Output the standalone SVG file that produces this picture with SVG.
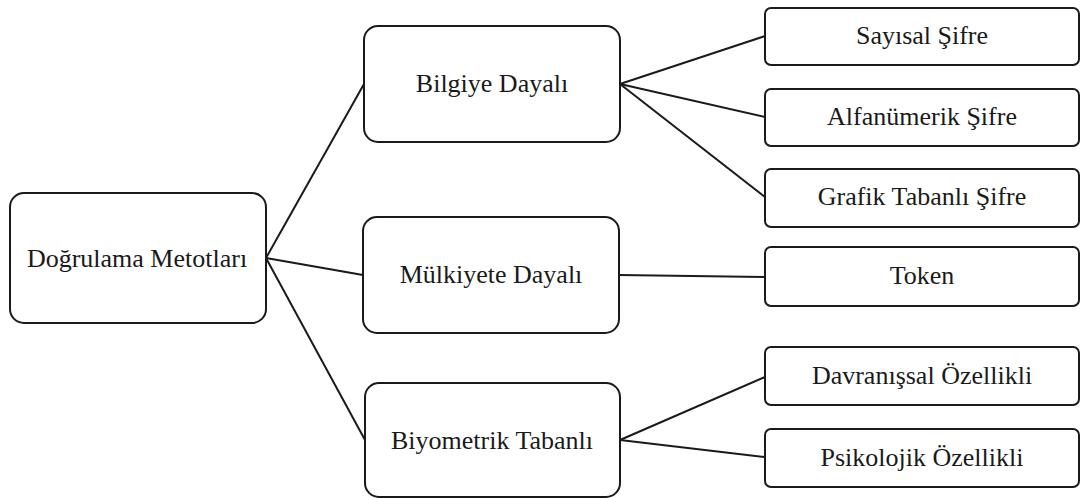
<svg xmlns="http://www.w3.org/2000/svg" width="1081" height="498" viewBox="0 0 1081 498">
  <style>
    .box { fill: #ffffff; stroke: #1a1a1a; stroke-width: 2; }
    .lbl { font-family: "Liberation Serif", "Times New Roman", serif; font-size: 26px; fill: #1a1a1a; text-anchor: middle; }
    .edge { stroke: #1a1a1a; stroke-width: 2; fill: none; }
  </style>
  <rect width="1081" height="498" fill="#ffffff"/>

  <!-- connectors -->
  <g id="connectors">
    <line class="edge" x1="266" y1="258" x2="364" y2="84"/>
    <line class="edge" x1="266" y1="258" x2="363" y2="275"/>
    <line class="edge" x1="266" y1="258" x2="365" y2="440"/>
    <line class="edge" x1="620" y1="84" x2="765" y2="36"/>
    <line class="edge" x1="620" y1="84" x2="765" y2="117"/>
    <line class="edge" x1="620" y1="84" x2="765" y2="197"/>
    <line class="edge" x1="619" y1="275" x2="765" y2="277"/>
    <line class="edge" x1="620" y1="440" x2="765" y2="377"/>
    <line class="edge" x1="620" y1="440" x2="765" y2="457"/>
  </g>

  <!-- root -->
  <g id="dogrulama-metotlari">
    <rect class="box" x="10" y="193" width="256" height="130" rx="14"/>
    <text class="lbl" x="137" y="267">Doğrulama Metotları</text>
  </g>

  <!-- second level -->
  <g id="bilgiye-dayali">
    <rect class="box" x="364" y="26" width="256" height="116" rx="14"/>
    <text class="lbl" x="492" y="92">Bilgiye  Dayalı</text>
  </g>
  <g id="mulkiyete-dayali">
    <rect class="box" x="363" y="217" width="256" height="116" rx="14"/>
    <text class="lbl" x="491" y="283">Mülkiyete Dayalı</text>
  </g>
  <g id="biyometrik-tabanli">
    <rect class="box" x="365" y="383" width="255" height="114" rx="14"/>
    <text class="lbl" x="492" y="449">Biyometrik Tabanlı</text>
  </g>

  <!-- leaves -->
  <g id="sayisal-sifre">
    <rect class="box" x="765" y="8" width="314" height="57" rx="6"/>
    <text class="lbl" x="922" y="44">Sayısal Şifre</text>
  </g>
  <g id="alfanumerik-sifre">
    <rect class="box" x="765" y="89" width="314" height="57" rx="6"/>
    <text class="lbl" x="922" y="125">Alfanümerik Şifre</text>
  </g>
  <g id="grafik-tabanli-sifre">
    <rect class="box" x="765" y="169" width="314" height="58" rx="6"/>
    <text class="lbl" x="922" y="205">Grafik Tabanlı Şifre</text>
  </g>
  <g id="token">
    <rect class="box" x="765" y="247" width="314" height="59" rx="6"/>
    <text class="lbl" x="922" y="284">Token</text>
  </g>
  <g id="davranissal-ozellikli">
    <rect class="box" x="765" y="347" width="314" height="58" rx="6"/>
    <text class="lbl" x="922" y="384">Davranışsal Özellikli</text>
  </g>
  <g id="psikolojik-ozellikli">
    <rect class="box" x="765" y="429" width="314" height="58" rx="6"/>
    <text class="lbl" x="922" y="466">Psikolojik Özellikli</text>
  </g>
</svg>
